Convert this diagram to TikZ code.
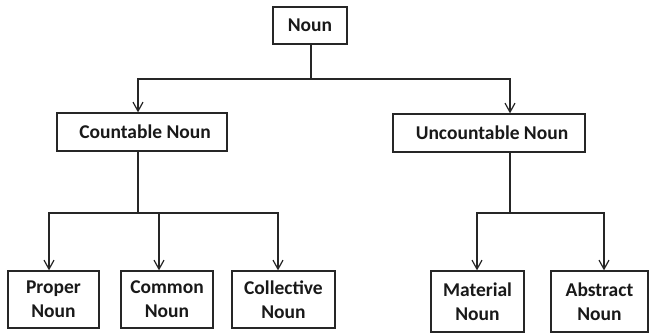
\documentclass[tikz,border=0pt]{standalone}
\usepackage{fontspec}
\setmainfont{Carlito}
\usetikzlibrary{arrows.meta}
\tikzset{
  box/.style={draw=black!85, line width=1.3pt, inner sep=0pt, align=center,
    font=\fontsize{19.5}{24}\selectfont\bfseries, text=black!90},
  arr/.style={draw=black!85, line width=1.3pt, -{Straight Barb[length=9pt,width=10pt,line width=1.2pt]}},
  ln/.style={draw=black!85, line width=1.3pt}
}
\begin{document}
\begin{tikzpicture}[x=1pt,y=-1pt]
\useasboundingbox[fill=white] (0,0) rectangle (649,334);
\node[box, minimum width=74pt, minimum height=37pt] (noun) at (310,25.5) {Noun};
\node[box, minimum width=170pt, minimum height=38pt] (count) at (142,132) {\hspace*{6pt}Countable Noun};
\node[box, minimum width=192pt, minimum height=38pt] (uncount) at (489,133) {\hspace*{6pt}Uncountable Noun};
\node[box, minimum width=91pt, minimum height=57pt] (proper) at (53.5,299.5) {Proper\\Noun};
\node[box, minimum width=92pt, minimum height=57pt] (common) at (167,299.5) {Common\\Noun};
\node[box, minimum width=103pt, minimum height=57pt] (collect) at (283.5,299.5) {Collective\\Noun};
\node[box, minimum width=93pt, minimum height=61pt] (material) at (477.5,301.5) {Material\\Noun};
\node[box, minimum width=97pt, minimum height=61pt] (abstract) at (599.5,301.5) {Abstract\\Noun};
\coordinate (j1) at (311,79);
\coordinate (j2) at (138,213);
\coordinate (j3) at (510,213);
\draw[ln] ([xshift=1pt]noun.south) -- (j1);
\draw[arr] (j1) -| ([xshift=-4pt]count.north);
\draw[arr] (j1) -| ([xshift=21pt]uncount.north);
\draw[ln] ([xshift=-4pt]count.south) -- (j2);
\draw[arr] (j2) -| ([xshift=-4.5pt]proper.north);
\draw[arr] (j2) -| ([xshift=-8pt]common.north);
\draw[arr] (j2) -| ([xshift=-5.5pt]collect.north);
\draw[ln] ([xshift=21pt]uncount.south) -- (j3);
\draw[arr] (j3) -| ([xshift=-0.5pt]material.north);
\draw[arr] (j3) -| ([xshift=4.5pt]abstract.north);
\end{tikzpicture}
\end{document}
